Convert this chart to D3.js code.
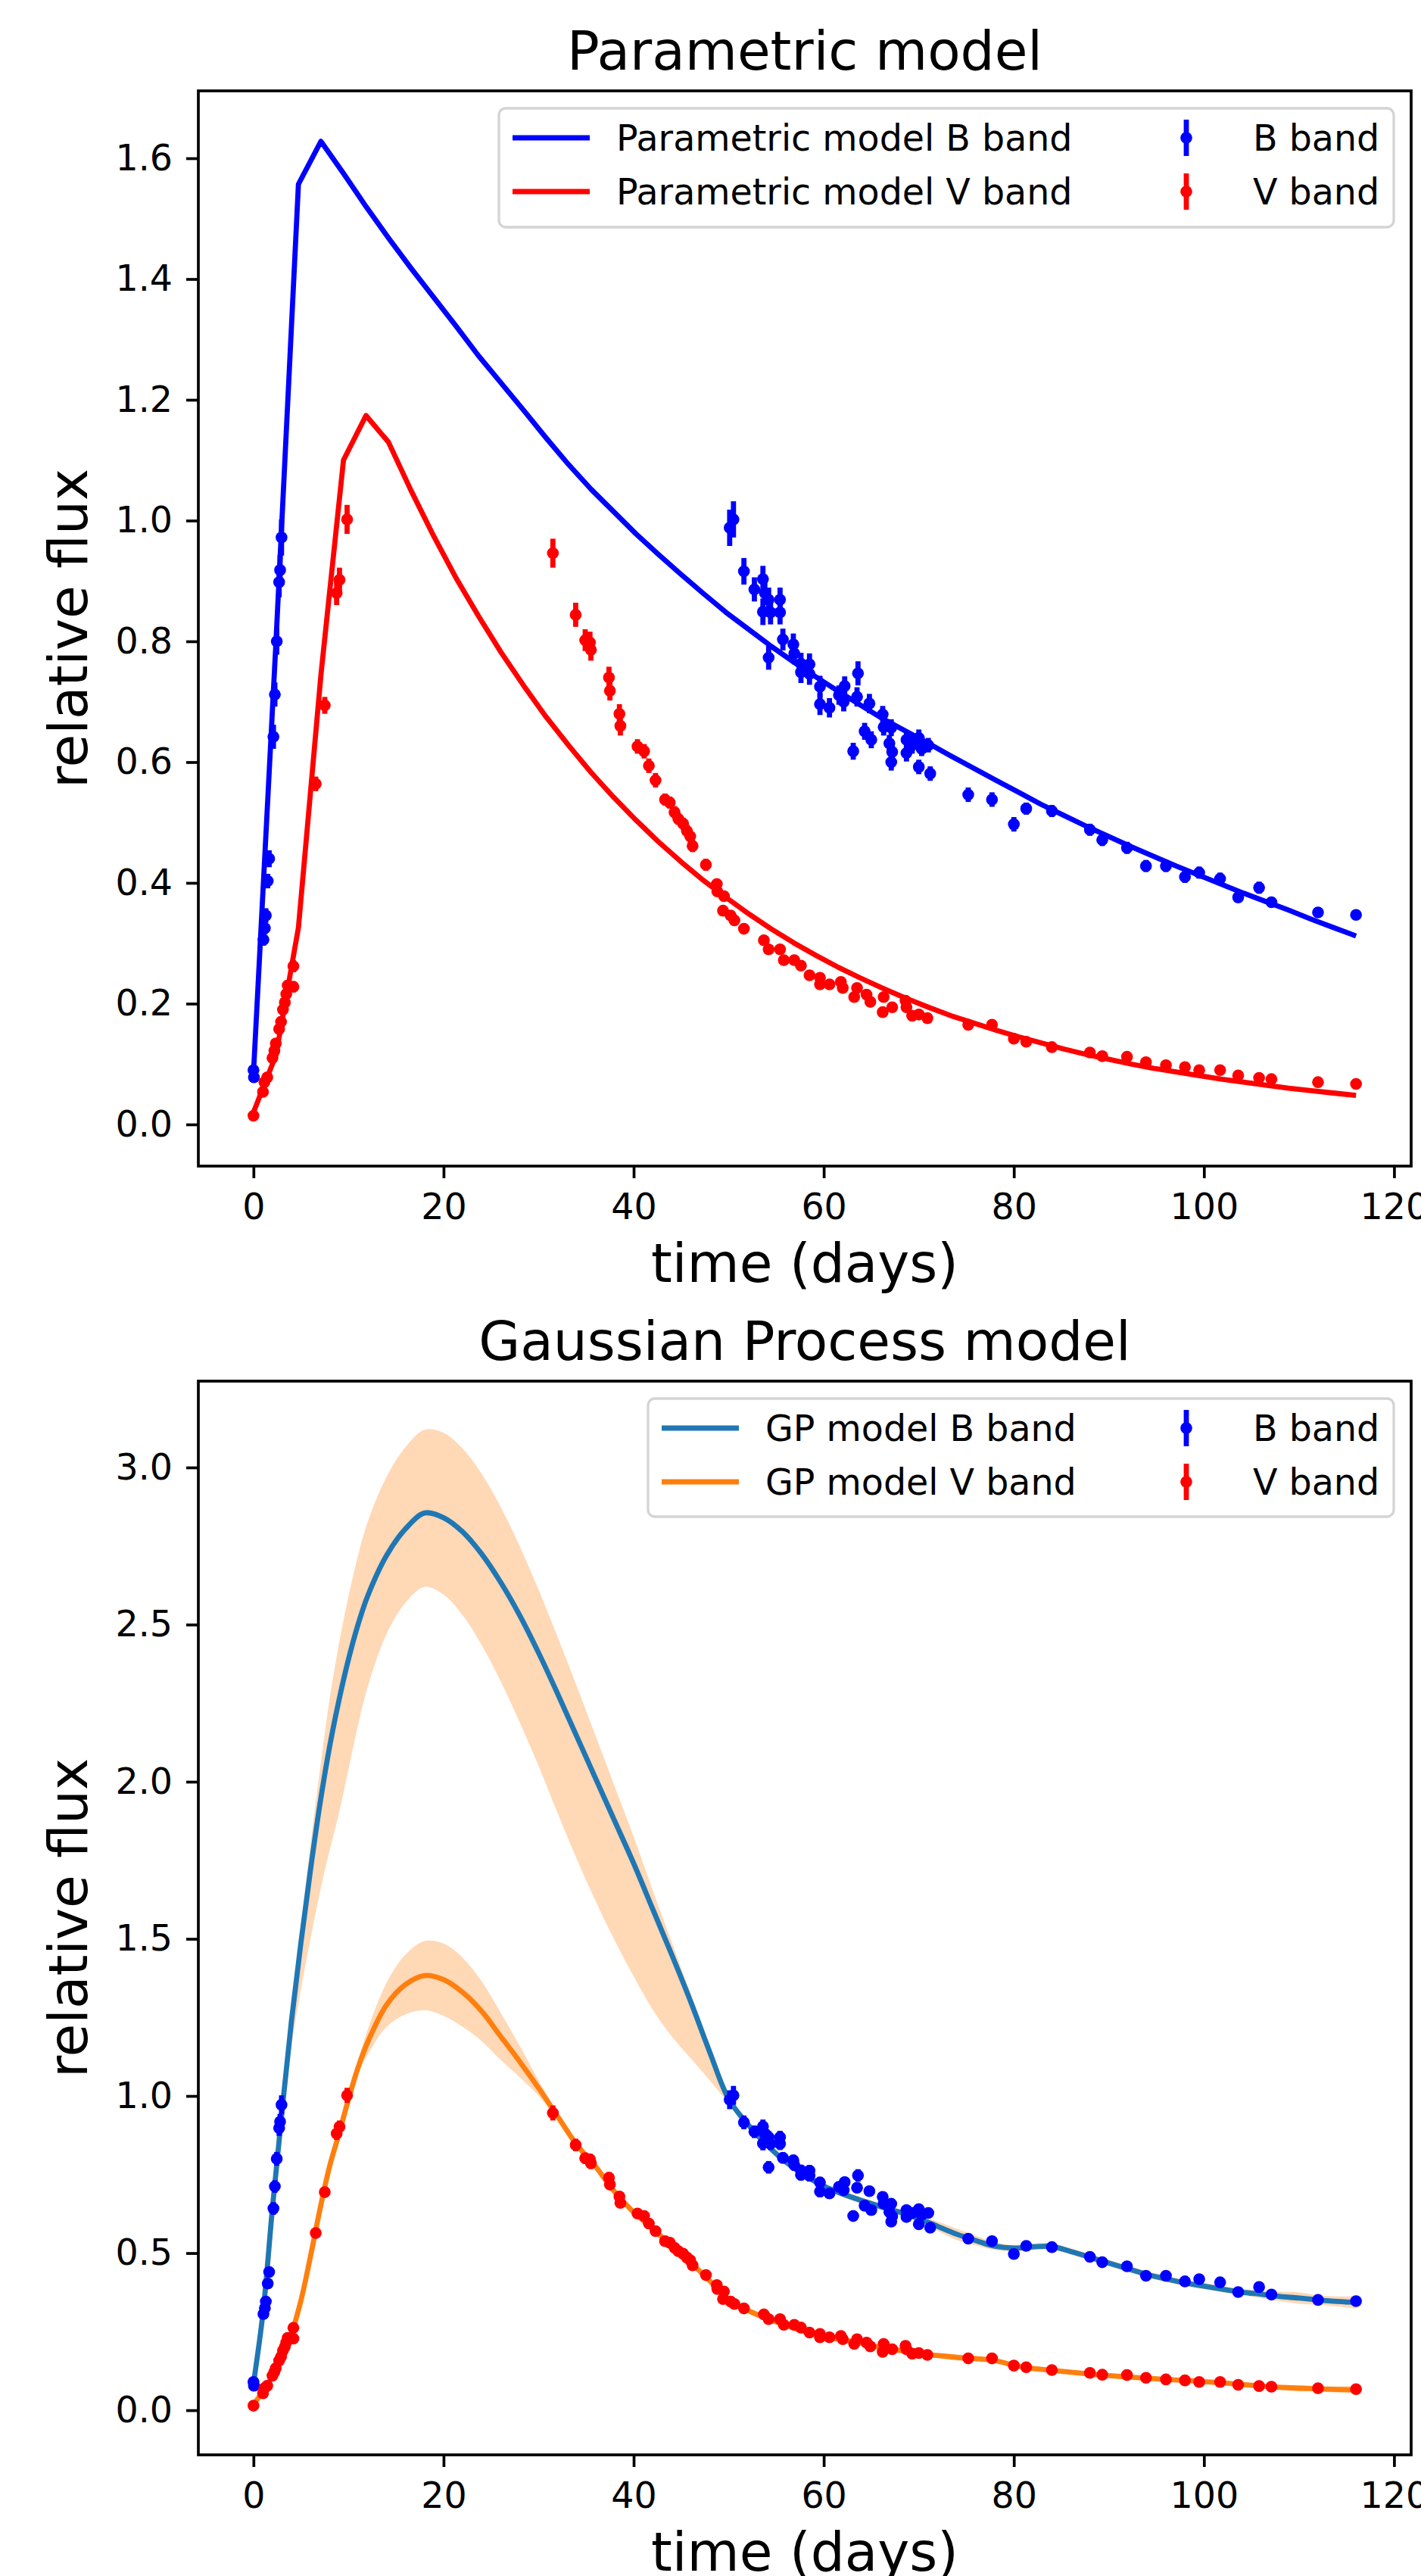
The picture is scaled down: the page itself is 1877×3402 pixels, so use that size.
<!DOCTYPE html>
<html>
<head>
<meta charset="utf-8">
<script src="https://cdn.jsdelivr.net/npm/d3@7"></script>
<style>
  body { margin: 0; background: #fff; }
  svg text { font-family: "DejaVu Sans", sans-serif; fill: #000; }
</style>
</head>
<body>
<svg id="fig" width="1877" height="3402"></svg>
<script>
// ---- observed light curve (days, relative flux, 1-sigma error) ----
const B_T = [0.0, 0.05, 1.05, 1.2, 1.3, 1.5, 1.65, 2.1, 2.25, 2.45, 2.7, 2.8, 2.95,
  50.1, 50.5, 51.6, 52.7, 53.6, 53.6, 53.8, 54.2, 54.2, 54.4, 55.4, 55.4, 55.7, 56.8, 56.9,
  57.6, 58.5, 57.6, 58.5, 59.6, 59.6, 60.6, 61.6, 62.2, 62.1, 63.6, 63.5, 63.1, 64.3, 64.8,
  65.0, 66.2, 66.3, 67.1, 66.9, 67.2, 67.1, 68.7, 68.7, 69.3, 70.0, 70.3, 70.0, 71.0, 71.2,
  75.2, 77.7, 80.0, 81.3, 84.0, 88.0, 89.3, 91.9, 93.9, 96.0, 98.0, 99.5, 101.7, 103.6,
  105.8, 107.1, 112.0, 116.0];
const B_FLUX = [0.090, 0.078, 0.306, 0.325, 0.346, 0.403, 0.44, 0.642, 0.712, 0.80, 0.898, 0.918, 0.972,
  0.988, 1.002, 0.916, 0.886, 0.903, 0.849, 0.88, 0.869, 0.773, 0.848, 0.869, 0.848, 0.803, 0.795, 0.78,
  0.763, 0.762, 0.749, 0.746, 0.725, 0.696, 0.690, 0.711, 0.726, 0.700, 0.747, 0.708, 0.618, 0.651, 0.697,
  0.637, 0.679, 0.658, 0.657, 0.631, 0.617, 0.600, 0.637, 0.615, 0.628, 0.640, 0.622, 0.592, 0.628, 0.581,
  0.546, 0.538, 0.497, 0.523, 0.519, 0.488, 0.471, 0.458, 0.428, 0.428, 0.41, 0.417, 0.407, 0.376,
  0.392, 0.368, 0.351, 0.347];
const B_ERR = [0.008, 0.008, 0.01, 0.01, 0.012, 0.012, 0.014, 0.02, 0.02, 0.022, 0.025, 0.025, 0.03,
  0.03, 0.03, 0.022, 0.02, 0.022, 0.022, 0.02, 0.02, 0.02, 0.02, 0.02, 0.02, 0.018, 0.018, 0.018,
  0.018, 0.018, 0.018, 0.018, 0.018, 0.018, 0.016, 0.016, 0.016, 0.016, 0.02, 0.016, 0.014, 0.014, 0.016,
  0.014, 0.014, 0.014, 0.014, 0.014, 0.014, 0.014, 0.014, 0.014, 0.014, 0.014, 0.012, 0.012, 0.012, 0.012,
  0.012, 0.012, 0.012, 0.01, 0.01, 0.01, 0.01, 0.01, 0.01, 0.01, 0.01, 0.01, 0.01, 0.008,
  0.01, 0.008, 0.008, 0.008];

const V_T = [0.0, 1.0, 1.15, 1.45, 2.0, 2.2, 2.35, 2.7, 2.9, 3.1, 3.3, 3.45, 3.6, 4.2, 4.2,
  6.55, 7.5, 8.75, 9.05, 9.85, 31.5, 33.9, 34.9, 35.4, 35.5, 37.4, 37.5, 38.5, 38.6, 40.4, 41.1,
  41.6, 42.3, 43.3, 43.8, 44.3, 44.7, 45.2, 45.6, 45.95, 46.2, 47.6, 48.75, 48.8, 49.5, 49.4,
  50.2, 50.6, 51.6, 53.7, 54.2, 55.4, 55.8, 56.9, 57.6, 58.5, 59.6, 59.6, 60.6, 61.8, 62.0,
  63.2, 63.5, 64.5, 64.9, 66.2, 66.3, 67.2, 68.6, 68.7, 69.3, 70.0, 70.9, 75.2, 77.7, 80.0,
  81.3, 84.0, 88.0, 89.3, 91.9, 93.9, 96.0, 98.0, 99.5, 101.7, 103.6, 105.8, 107.1, 112.0, 116.0];
const V_FLUX = [0.0144, 0.054, 0.070, 0.078, 0.110, 0.122, 0.134, 0.158, 0.170, 0.19, 0.202, 0.216, 0.23, 0.228, 0.262,
  0.564, 0.694, 0.88, 0.902, 1.002, 0.946, 0.844, 0.802, 0.798, 0.786, 0.74, 0.718, 0.68, 0.66, 0.626, 0.618,
  0.594, 0.57, 0.538, 0.533, 0.517, 0.506, 0.498, 0.486, 0.477, 0.461, 0.43, 0.398, 0.386, 0.378, 0.354,
  0.346, 0.338, 0.324, 0.305, 0.29, 0.29, 0.272, 0.272, 0.263, 0.247, 0.243, 0.232, 0.232, 0.236, 0.226,
  0.211, 0.226, 0.215, 0.203, 0.186, 0.211, 0.194, 0.205, 0.194, 0.18, 0.182, 0.176, 0.165, 0.165, 0.142,
  0.137, 0.128, 0.119, 0.113, 0.112, 0.103, 0.098, 0.095, 0.09, 0.09, 0.081, 0.077, 0.075, 0.07, 0.067];
const V_ERR = [0.005, 0.006, 0.006, 0.006, 0.007, 0.007, 0.007, 0.008, 0.008, 0.008, 0.008, 0.008, 0.009, 0.009, 0.01,
  0.012, 0.014, 0.02, 0.02, 0.024, 0.024, 0.02, 0.018, 0.018, 0.018, 0.018, 0.016, 0.016, 0.016, 0.012, 0.012,
  0.012, 0.012, 0.01, 0.01, 0.01, 0.01, 0.01, 0.01, 0.01, 0.01, 0.01, 0.008, 0.008, 0.008, 0.008,
  0.008, 0.008, 0.008, 0.008, 0.008, 0.008, 0.008, 0.008, 0.008, 0.007, 0.007, 0.007, 0.007, 0.007, 0.007,
  0.007, 0.007, 0.007, 0.007, 0.007, 0.007, 0.007, 0.007, 0.007, 0.006, 0.006, 0.006, 0.006, 0.006, 0.006,
  0.006, 0.006, 0.005, 0.005, 0.005, 0.005, 0.005, 0.005, 0.005, 0.005, 0.005, 0.005, 0.005, 0.005, 0.005];

// ---- parametric model, sampled on 50 epochs ----
const MODEL_T = [0, 2.37, 4.73, 7.10, 9.47, 11.84, 14.20, 16.57, 18.94, 21.31, 23.67, 26.04, 28.41,
  30.78, 33.14, 35.51, 37.88, 40.24, 42.61, 44.98, 47.35, 49.71, 52.08, 54.45, 56.82, 59.18, 61.55,
  63.92, 66.29, 68.65, 71.02, 73.39, 75.76, 78.12, 80.49, 82.86, 85.22, 87.59, 89.96, 92.33, 94.69,
  97.06, 99.43, 101.80, 104.16, 106.53, 108.90, 111.27, 113.63, 116.00];
const MODEL_B = [0.085, 0.80, 1.557, 1.628, 1.575, 1.52, 1.468, 1.418, 1.37, 1.322, 1.273, 1.228, 1.183,
  1.137, 1.093, 1.052, 1.015, 0.978, 0.944, 0.911, 0.879, 0.848, 0.82, 0.792, 0.766, 0.741, 0.717,
  0.694, 0.671, 0.651, 0.631, 0.610, 0.590, 0.570, 0.550, 0.530, 0.512, 0.494, 0.477, 0.460, 0.444,
  0.428, 0.413, 0.398, 0.383, 0.369, 0.355, 0.340, 0.326, 0.312];
const MODEL_V = [0.02, 0.115, 0.326, 0.745, 1.10, 1.174, 1.13, 1.05, 0.975, 0.905, 0.842, 0.782, 0.727,
  0.675, 0.628, 0.583, 0.542, 0.504, 0.468, 0.435, 0.404, 0.376, 0.349, 0.324, 0.301, 0.28, 0.26,
  0.242, 0.225, 0.209, 0.194, 0.18, 0.168, 0.156, 0.145, 0.135, 0.125, 0.116, 0.108, 0.10, 0.093,
  0.087, 0.081, 0.075, 0.070, 0.065, 0.060, 0.056, 0.052, 0.048];

// ---- Gaussian process prediction: mean, upper and lower envelope ----
const GP_T = [0, 1, 2, 3, 4, 5, 6, 7, 8, 9, 10, 11, 12, 14, 16, 18, 20, 22, 24, 26, 28, 30, 32, 34,
  36, 38, 40, 42, 44, 46, 48, 50, 52, 54, 56, 58, 60, 62, 64, 66, 68, 70, 72, 74, 76, 78, 80, 82,
  84, 86, 88, 90, 92, 94, 96, 98, 100, 102, 104, 106, 108, 110, 112, 114, 116];
const GP_B_MEAN = [0.085, 0.31, 0.645, 0.95, 1.24, 1.49, 1.72, 1.93, 2.11, 2.26, 2.39, 2.50, 2.59, 2.72,
  2.805, 2.855, 2.84, 2.795, 2.725, 2.635, 2.53, 2.41, 2.28, 2.145, 2.01, 1.875, 1.74, 1.595, 1.45,
  1.30, 1.14, 0.99, 0.91, 0.845, 0.79, 0.748, 0.713, 0.688, 0.667, 0.648, 0.63, 0.61, 0.585, 0.56,
  0.54, 0.522, 0.516, 0.52, 0.521, 0.505, 0.487, 0.468, 0.45, 0.432, 0.418, 0.405, 0.395, 0.385,
  0.376, 0.369, 0.362, 0.357, 0.351, 0.346, 0.343];
const GP_B_UP = [0.10, 0.322, 0.657, 0.97, 1.27, 1.54, 1.80, 2.04, 2.26, 2.44, 2.59, 2.72, 2.825, 2.97,
  3.065, 3.12, 3.11, 3.06, 2.98, 2.875, 2.75, 2.61, 2.46, 2.305, 2.145, 1.985, 1.825, 1.655, 1.49,
  1.325, 1.158, 1.002, 0.92, 0.855, 0.80, 0.758, 0.723, 0.698, 0.677, 0.658, 0.64, 0.62, 0.60, 0.578,
  0.555, 0.534, 0.526, 0.53, 0.531, 0.515, 0.497, 0.478, 0.46, 0.442, 0.428, 0.415, 0.405, 0.395,
  0.386, 0.381, 0.377, 0.375, 0.366, 0.362, 0.363];
const GP_B_LO = [0.07, 0.298, 0.63, 0.92, 1.16, 1.34, 1.50, 1.65, 1.78, 1.90, 2.04, 2.18, 2.30, 2.47,
  2.57, 2.62, 2.595, 2.53, 2.435, 2.32, 2.19, 2.05, 1.90, 1.755, 1.62, 1.495, 1.38, 1.275, 1.19,
  1.12, 1.05, 0.975, 0.90, 0.835, 0.78, 0.738, 0.703, 0.678, 0.657, 0.638, 0.62, 0.60, 0.57, 0.542,
  0.525, 0.51, 0.506, 0.51, 0.511, 0.495, 0.477, 0.458, 0.44, 0.422, 0.408, 0.395, 0.385, 0.375,
  0.366, 0.357, 0.347, 0.339, 0.336, 0.33, 0.323];
const GP_V_MEAN = [0.018, 0.06, 0.11, 0.175, 0.245, 0.35, 0.49, 0.64, 0.775, 0.88, 0.99, 1.09, 1.17, 1.29,
  1.355, 1.383, 1.37, 1.33, 1.27, 1.19, 1.11, 1.025, 0.935, 0.845, 0.775, 0.695, 0.63, 0.578, 0.522,
  0.47, 0.412, 0.352, 0.318, 0.292, 0.27, 0.25, 0.234, 0.224, 0.213, 0.2, 0.19, 0.18, 0.174, 0.168,
  0.164, 0.158, 0.143, 0.133, 0.127, 0.121, 0.115, 0.11, 0.106, 0.102, 0.098, 0.095, 0.091, 0.087,
  0.082, 0.077, 0.073, 0.07, 0.068, 0.066, 0.065];
const GP_V_SIGMA = [0.005, 0.005, 0.005, 0.005, 0.006, 0.01, 0.012, 0.012, 0.01, 0.008, 0.008, 0.02, 0.04,
  0.07, 0.095, 0.11, 0.115, 0.11, 0.095, 0.075, 0.05, 0.025, 0.01, 0.006, 0.006, 0.006, 0.006, 0.006,
  0.006, 0.006, 0.006, 0.006, 0.006, 0.006, 0.006, 0.006, 0.006, 0.006, 0.006, 0.006, 0.006, 0.006,
  0.008, 0.01, 0.008, 0.006, 0.006, 0.006, 0.006, 0.006, 0.006, 0.006, 0.006, 0.006, 0.006, 0.006,
  0.006, 0.006, 0.006, 0.006, 0.008, 0.01, 0.008, 0.01, 0.012];

const X_TICKS = [0, 20, 40, 60, 80, 100, 120];
const TOP_Y_TICKS = [0.0, 0.2, 0.4, 0.6, 0.8, 1.0, 1.2, 1.4, 1.6];
const BOTTOM_Y_TICKS = [0.0, 0.5, 1.0, 1.5, 2.0, 2.5, 3.0];

// ---- look ----
const BLUE = '#0000ff', RED = '#ff0000', C0 = '#1f77b4', C1 = '#ff7f0e';
const AX_LEFT = 262, AX_RIGHT = 1864;
const X_DOMAIN = [-5.8, 121.8];
const TICK_FONT = 47.5, LABEL_FONT = 71, TITLE_FONT = 71;
const LINE_W = 6.8, SPINE_W = 3.7, DOT_R = 7.8;

const svg = d3.select('#fig');
svg.append('rect').attr('width', 1877).attr('height', 3402).attr('fill', '#fff');

const zip = (xs, ys) => xs.map((t, i) => [t, ys[i]]);

function drawPanel(p) {
  const g = svg.append('g');
  const x = d3.scaleLinear().domain(X_DOMAIN).range([AX_LEFT, AX_RIGHT]);
  const y = d3.scaleLinear().domain(p.yDomain).range([p.bottom, p.top]);

  p.drawContent(g, x, y);

  // frame
  g.append('rect')
    .attr('x', AX_LEFT).attr('y', p.top)
    .attr('width', AX_RIGHT - AX_LEFT).attr('height', p.bottom - p.top)
    .attr('fill', 'none').attr('stroke', '#000').attr('stroke-width', SPINE_W);

  const xAxis = g.append('g')
    .attr('transform', `translate(0,${p.bottom})`)
    .call(d3.axisBottom(x).tickValues(X_TICKS).tickFormat(d3.format('d'))
      .tickSize(16).tickSizeOuter(0).tickPadding(20));
  const yAxis = g.append('g')
    .attr('transform', `translate(${AX_LEFT},0)`)
    .call(d3.axisLeft(y).tickValues(p.yTicks).tickFormat(d3.format('.1f'))
      .tickSize(16).tickSizeOuter(0).tickPadding(18));
  [xAxis, yAxis].forEach(a => {
    a.select('.domain').remove();
    a.selectAll('.tick line').attr('stroke', '#000').attr('stroke-width', SPINE_W);
    a.selectAll('.tick text').attr('font-size', TICK_FONT).attr('font-family', '"DejaVu Sans", sans-serif').attr('fill', '#000');
  });

  g.append('text')
    .attr('x', (AX_LEFT + AX_RIGHT) / 2).attr('y', p.top - 28)
    .attr('text-anchor', 'middle').attr('font-size', TITLE_FONT)
    .text(p.title);
  g.append('text')
    .attr('x', (AX_LEFT + AX_RIGHT) / 2).attr('y', p.bottom + 153)
    .attr('text-anchor', 'middle').attr('font-size', LABEL_FONT)
    .text('time (days)');
  g.append('text')
    .attr('transform', `translate(115,${(p.top + p.bottom) / 2}) rotate(-90)`)
    .attr('text-anchor', 'middle').attr('font-size', LABEL_FONT)
    .text('relative flux');

  drawLegend(g, p.legend);
}

function drawErrorbars(g, x, y, ts, vs, es, color) {
  const pts = ts.map((t, i) => ({ t, v: vs[i], e: es[i] }));
  g.append('g').selectAll('line').data(pts).join('line')
    .attr('x1', d => x(d.t)).attr('x2', d => x(d.t))
    .attr('y1', d => y(d.v - d.e)).attr('y2', d => y(d.v + d.e))
    .attr('stroke', color).attr('stroke-width', LINE_W);
  g.append('g').selectAll('circle').data(pts).join('circle')
    .attr('cx', d => x(d.t)).attr('cy', d => y(d.v)).attr('r', DOT_R)
    .attr('fill', color);
}

function drawLegend(g, lg) {
  const box = lg.box;
  g.append('rect')
    .attr('x', box.x).attr('y', box.y).attr('width', box.w).attr('height', box.h)
    .attr('rx', 9).attr('fill', '#fff').attr('fill-opacity', 0.8)
    .attr('stroke', '#d4d4d4').attr('stroke-width', 3.3);
  const rowY = [box.y + 39, box.y + 110];
  lg.items.forEach(it => {
    const cy = rowY[it.row];
    if (it.kind === 'line') {
      g.append('line')
        .attr('x1', box.x + 18).attr('x2', box.x + 120).attr('y1', cy).attr('y2', cy)
        .attr('stroke', it.color).attr('stroke-width', LINE_W);
      g.append('text').attr('x', box.x + 155).attr('y', cy + 17)
        .attr('font-size', TICK_FONT).text(it.label);
    } else {
      const hx = box.x + box.w - 274;
      g.append('line')
        .attr('x1', hx).attr('x2', hx).attr('y1', cy - 24).attr('y2', cy + 24)
        .attr('stroke', it.color).attr('stroke-width', LINE_W);
      g.append('circle').attr('cx', hx).attr('cy', cy).attr('r', DOT_R).attr('fill', it.color);
      g.append('text').attr('x', box.x + box.w - 186).attr('y', cy + 17)
        .attr('font-size', TICK_FONT).text(it.label);
    }
  });
}

// ---- top panel: parametric model ----
drawPanel({
  top: 120, bottom: 1540,
  yDomain: [-0.069, 1.7116],
  yTicks: TOP_Y_TICKS,
  title: 'Parametric model',
  legend: {
    box: { x: 659, y: 143, w: 1182, h: 157 },
    items: [
      { kind: 'line', color: BLUE, label: 'Parametric model B band', row: 0 },
      { kind: 'line', color: RED, label: 'Parametric model V band', row: 1 },
      { kind: 'err', color: BLUE, label: 'B band', row: 0 },
      { kind: 'err', color: RED, label: 'V band', row: 1 },
    ],
  },
  drawContent: (g, x, y) => {
    const line = d3.line().x(d => x(d[0])).y(d => y(d[1]));
    g.append('path').attr('d', line(zip(MODEL_T, MODEL_B)))
      .attr('fill', 'none').attr('stroke', BLUE).attr('stroke-width', LINE_W).attr('stroke-linejoin', 'round');
    g.append('path').attr('d', line(zip(MODEL_T, MODEL_V)))
      .attr('fill', 'none').attr('stroke', RED).attr('stroke-width', LINE_W).attr('stroke-linejoin', 'round');
    drawErrorbars(g, x, y, B_T, B_FLUX, B_ERR, BLUE);
    drawErrorbars(g, x, y, V_T, V_FLUX, V_ERR, RED);
  },
});

// ---- bottom panel: Gaussian process ----
drawPanel({
  top: 1824, bottom: 3242,
  yDomain: [-0.142, 3.2747],
  yTicks: BOTTOM_Y_TICKS,
  title: 'Gaussian Process model',
  legend: {
    box: { x: 856, y: 1847, w: 985, h: 156 },
    items: [
      { kind: 'line', color: C0, label: 'GP model B band', row: 0 },
      { kind: 'line', color: C1, label: 'GP model V band', row: 1 },
      { kind: 'err', color: BLUE, label: 'B band', row: 0 },
      { kind: 'err', color: RED, label: 'V band', row: 1 },
    ],
  },
  drawContent: (g, x, y) => {
    const curve = d3.curveCatmullRom.alpha(0.5);
    const band = (lo, hi) => d3.area().curve(curve)
      .x((d, i) => x(GP_T[i]))
      .y0((d, i) => y(lo[i]))
      .y1((d, i) => y(hi[i]))(GP_T);
    const line = d3.line().curve(curve).x(d => x(d[0])).y(d => y(d[1]));
    const vLo = GP_V_MEAN.map((m, i) => m - GP_V_SIGMA[i]);
    const vHi = GP_V_MEAN.map((m, i) => m + GP_V_SIGMA[i]);
    g.append('path').attr('d', band(GP_B_LO, GP_B_UP)).attr('fill', C1).attr('fill-opacity', 0.3);
    g.append('path').attr('d', band(vLo, vHi)).attr('fill', C1).attr('fill-opacity', 0.3);
    g.append('path').attr('d', line(zip(GP_T, GP_B_MEAN)))
      .attr('fill', 'none').attr('stroke', C0).attr('stroke-width', LINE_W);
    g.append('path').attr('d', line(zip(GP_T, GP_V_MEAN)))
      .attr('fill', 'none').attr('stroke', C1).attr('stroke-width', LINE_W);
    drawErrorbars(g, x, y, B_T, B_FLUX, B_ERR, BLUE);
    drawErrorbars(g, x, y, V_T, V_FLUX, V_ERR, RED);
  },
});
</script>
</body>
</html>
